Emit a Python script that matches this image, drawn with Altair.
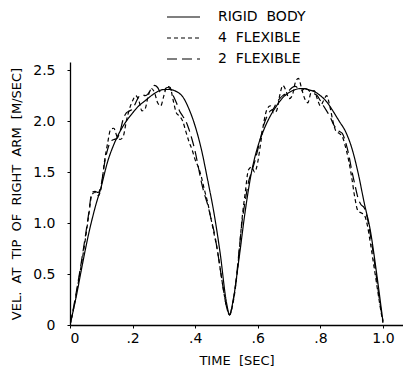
import altair as alt
import pandas as pd

# ---- data ----
rigid_t = [0.0, 0.02, 0.04, 0.06, 0.08, 0.10, 0.12, 0.14, 0.16, 0.18, 0.20, 0.22, 0.24, 0.26,
           0.28, 0.30, 0.32, 0.34, 0.36, 0.38, 0.40, 0.42, 0.44, 0.46, 0.48, 0.50, 0.51, 0.52,
           0.54, 0.56, 0.58, 0.60, 0.62, 0.64, 0.66, 0.68, 0.70, 0.72, 0.74, 0.76, 0.78, 0.80,
           0.82, 0.84, 0.86, 0.88, 0.90, 0.92, 0.94, 0.96, 0.98, 1.0]
rigid_v = [0.0, 0.28, 0.6, 0.9, 1.15, 1.36, 1.6, 1.77, 1.9, 2.0, 2.08, 2.15, 2.2, 2.25,
           2.29, 2.31, 2.31, 2.29, 2.24, 2.12, 1.95, 1.72, 1.42, 1.1, 0.7, 0.22, 0.1, 0.22,
           0.65, 1.12, 1.5, 1.75, 1.92, 2.05, 2.15, 2.23, 2.28, 2.31, 2.32, 2.31, 2.29, 2.25,
           2.19, 2.1, 2.0, 1.9, 1.74, 1.5, 1.2, 0.92, 0.5, 0.03]

flex_t = [round(i * 0.01, 2) for i in range(101)]
flex4_v = [0.0, 0.14, 0.3, 0.48, 0.66, 0.86, 1.08, 1.28, 1.3, 1.27,
           1.35, 1.6, 1.78, 1.92, 1.93, 1.85, 1.82, 1.85, 2.0, 2.12,
           2.2, 2.25, 2.2, 2.1, 2.12, 2.25, 2.32, 2.28, 2.18, 2.15,
           2.25, 2.34, 2.33, 2.2, 2.08, 2.05, 2.0, 1.9, 1.8, 1.72,
           1.62, 1.55, 1.45, 1.32, 1.2, 1.05, 0.9, 0.75, 0.55, 0.35,
           0.18, 0.1, 0.2, 0.4, 0.7, 1.05, 1.3, 1.52, 1.55, 1.5,
           1.6, 1.8, 2.0, 2.12, 2.15, 2.08, 2.1, 2.25, 2.35, 2.3,
           2.22, 2.25, 2.38, 2.42, 2.32, 2.22, 2.18, 2.28, 2.3, 2.22,
           2.15, 2.2, 2.25, 2.15, 2.0, 1.9, 1.88, 1.85, 1.75, 1.62,
           1.45, 1.25, 1.12, 1.1, 1.08, 0.98, 0.8, 0.6, 0.4, 0.2,
           0.02]
flex2_v = [0.0, 0.15, 0.32, 0.5, 0.69, 0.89, 1.1, 1.3, 1.31, 1.3,
           1.38, 1.58, 1.72, 1.8, 1.82, 1.83, 1.9, 2.02, 2.08, 2.1,
           2.12, 2.18, 2.24, 2.26, 2.25, 2.27, 2.32, 2.35, 2.33, 2.28,
           2.3, 2.33, 2.32, 2.25, 2.18, 2.1, 2.05, 2.0, 1.92, 1.82,
           1.7, 1.55, 1.4, 1.28, 1.18, 1.05, 0.92, 0.75, 0.55, 0.35,
           0.18, 0.1, 0.22, 0.42, 0.72, 1.02, 1.22, 1.4, 1.5, 1.6,
           1.72, 1.85, 1.97, 2.05, 2.1, 2.12, 2.18, 2.22, 2.25, 2.27,
           2.3, 2.33, 2.34, 2.32, 2.3, 2.32, 2.31, 2.28, 2.27, 2.25,
           2.2, 2.15, 2.1, 2.05, 1.98, 1.93, 1.9, 1.88, 1.8, 1.68,
           1.52, 1.38, 1.25, 1.18, 1.15, 1.05, 0.88, 0.68, 0.45, 0.22,
           0.04]

NB = "\u00a0"
series_names = ["RIGID BODY", "4 FLEXIBLE", "2 FLEXIBLE"]
legend_labels = [s.replace(" ", NB * 2) for s in series_names]
series_dash = [[1, 0], [4, 3], [10, 5]]

x_ticks = [0, 0.2, 0.4, 0.6, 0.8, 1.0]
y_ticks = [0, 0.5, 1.0, 1.5, 2.0, 2.5]

x_title = "TIME" + NB * 2 + "[SEC]"
y_title = (NB * 2).join(["VEL.", "AT", "TIP", "OF", "RIGHT", "ARM", "[M/SEC]"])

rows = []
for t, v in zip(rigid_t, rigid_v):
    rows.append({"t": t, "v": v, "series": series_names[0]})
for t, v in zip(flex_t, flex4_v):
    rows.append({"t": t, "v": v, "series": series_names[1]})
for t, v in zip(flex_t, flex2_v):
    rows.append({"t": t, "v": v, "series": series_names[2]})
df = pd.DataFrame(rows)

FONT = "DejaVu Sans"

x_label_expr = ("datum.value == 0 ? '0' : (datum.value == 1 ? '1.0' : "
                "replace(format(datum.value, '.1f'), '0.', '.'))")
y_label_expr = "datum.value == 0 ? '0' : format(datum.value, '.1f')"

lines = alt.Chart(df).mark_line(color="black", strokeWidth=1.2, interpolate="monotone", clip=True).encode(
    x=alt.X("t:Q", scale=alt.Scale(domain=[0, 1.064], nice=False, zero=False),
            axis=alt.Axis(values=x_ticks, labelExpr=x_label_expr, title=x_title,
                          titlePadding=9, labelPadding=3)),
    y=alt.Y("v:Q", scale=alt.Scale(domain=[0, 2.58], nice=False),
            axis=alt.Axis(values=y_ticks, labelExpr=y_label_expr, title=y_title,
                          titlePadding=9, labelPadding=12)),
    detail="series:N",
    strokeDash=alt.StrokeDash("series:N", scale=alt.Scale(domain=series_names, range=series_dash),
                              legend=None),
)

# manual legend above plot
legend_y = [-45, -24, -3]
legend_layers = []
for label, dash, yy in zip(legend_labels, series_dash, legend_y):
    ldf = pd.DataFrame({"label": [label]})
    rule = alt.Chart(ldf).mark_rule(color="black", strokeWidth=1.2, strokeDash=dash, clip=False).encode(
        x=alt.value(97), x2=alt.value(130), y=alt.value(yy))
    txt = alt.Chart(ldf).mark_text(align="left", baseline="middle", font=FONT, fontSize=14,
                                   color="black", clip=False).encode(
        x=alt.value(148), y=alt.value(yy), text="label:N")
    legend_layers += [rule, txt]

chart = alt.layer(lines, *legend_layers).properties(
    width=333, height=263,
    autosize=alt.AutoSizeParams(type="none"),
    padding={"left": 62, "top": 54, "right": 0, "bottom": 42},
).configure_view(stroke=None).configure_axis(
    grid=False, domainColor="black", domainWidth=1.3, tickColor="black", tickSize=3,
    labelFont=FONT, labelFontSize=14, labelColor="black",
    titleFont=FONT, titleFontSize=13, titleFontWeight="normal", titleColor="black",
)

chart.save("out.html", embed_options={"renderer": "svg", "actions": False})
